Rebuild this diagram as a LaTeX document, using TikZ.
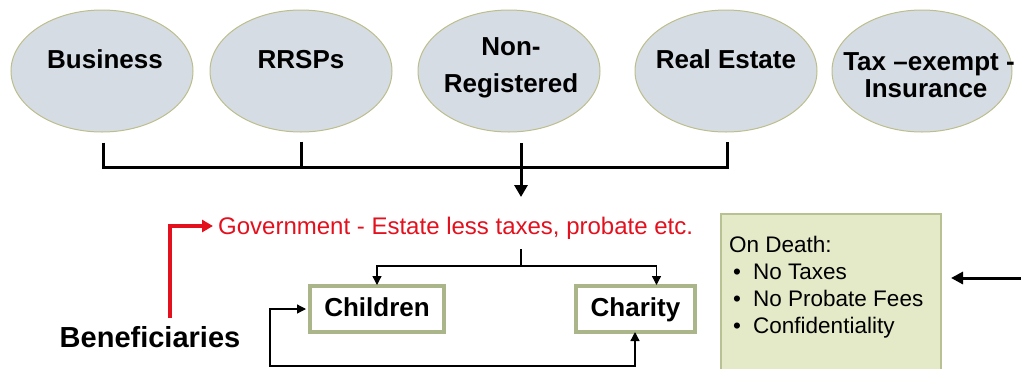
\documentclass[tikz,border=0pt]{standalone}
\usepackage{fontspec}
\setmainfont{Liberation Sans}
\usetikzlibrary{arrows.meta,shapes.geometric,calc}
\definecolor{ellfill}{RGB}{214,220,228}
\definecolor{ellline}{RGB}{188,190,140}
\definecolor{govred}{RGB}{227,16,30}
\definecolor{boxline}{RGB}{170,181,138}
\definecolor{notefill}{RGB}{228,233,200}
\definecolor{noteline}{RGB}{184,193,146}
\begin{document}
\begin{tikzpicture}[x=1pt,y=-1pt,
  asset/.style={ellipse, draw=ellline, fill=ellfill, line width=1pt, minimum width=182pt, minimum height=122pt, inner sep=0pt},
  assettext/.style={font=\fontsize{26}{34}\selectfont\bfseries, anchor=base, inner sep=0pt},
  bracket/.style={line width=3pt, line cap=butt},
  bigtip/.style={-{Triangle[length=12pt,width=13pt]}},
  thinline/.style={line width=1.3pt},
  smalltip/.style={-{Triangle[length=9pt,width=9pt]}},
  benbox/.style={draw=boxline, line width=4pt, fill=white, rectangle, inner sep=0pt, text height=19pt, text depth=5pt, font=\fontsize{26}{30}\selectfont\bfseries},
  notebox/.style={draw=noteline, fill=notefill, line width=1.2pt},
  notetext/.style={anchor=base west, inner sep=0pt, font=\fontsize{22.5}{27}\selectfont}
]
\useasboundingbox (0,0) rectangle (1021,368);
\clip (0,0) rectangle (1021,368);

% asset ellipses
\node[asset] (bus) at (102,71) {};
\node[asset] (rr) at (301,71) {};
\node[asset] (nr) at (509,71) {};
\node[asset] (re) at (726,71) {};
\node[asset, minimum width=180pt] (tx) at (922,71) {};
\node[assettext] (bust) at (105,68) {Business};
\node[assettext] (rrt) at (301,68) {RRSPs};
\node[assettext] (nrt1) at (511,55) {Non-};
\node[assettext] (nrt2) at (511,92) {Registered};
\node[assettext] (ret) at (726,68) {Real Estate};
\node[assettext] (txt1) at (929,70) {Tax –exempt -};
\node[assettext] (txt2) at (926,97) {Insurance};

% bracket
\coordinate (hl) at (103,167);
\coordinate (hr) at (727,167);
\coordinate (nrs) at (521,143);
\coordinate (dn) at (521,197);
\draw[bracket] ([yshift=-10pt]bus.south -| hl) -- (hl) -- (hr) -- ([yshift=-9pt]re.south -| hr);
\draw[bracket] ([yshift=-9pt]rr.south) -- (rr.south |- hl);
\draw[bracket, bigtip] (nrs) -- (dn);

% government
\node[anchor=base west, inner sep=0pt, text=govred, font=\fontsize{24}{28}\selectfont] (gov) at (218,234) {Government - Estate less taxes, probate etc.};
\node[anchor=base, inner sep=0pt, font=\fontsize{29}{32}\selectfont\bfseries] (ben) at (150,347) {Beneficiaries};
\coordinate (rs) at (170,318);
\coordinate (gw) at (213,226);
\draw[line width=3.5pt, govred, -{Triangle[length=11pt,width=12pt]}] (rs) |- (gw);

% children / charity
\node[benbox, minimum width=134pt, minimum height=46pt] (ch) at (377,309) {Children};
\node[benbox, minimum width=119pt, minimum height=46pt] (cha) at (635.5,309) {Charity};
\coordinate (gs) at (521,249);
\coordinate (split) at (521,266);
\draw[thinline] (gs) -- (split);
\draw[thinline, smalltip] (split) -| ([yshift=-1pt]ch.north);
\draw[thinline, smalltip] (split) -| ([xshift=21pt,yshift=-1pt]cha.north);
\coordinate (l1) at (270,309);
\coordinate (l2) at (270,366);
\coordinate (l3) at (635,366);
\draw[thinline, {Triangle[length=9pt,width=9pt]}-{Triangle[length=9pt,width=9pt]}] ([xshift=-2pt]ch.west) -- (l1) -- (l2) -- (l3) -- ([yshift=2pt]cha.south -| l3);

% note box
\path[notebox] (721,214) rectangle (941,390);
\coordinate (nb) at (941,278);
\node[notetext] (n0) at (729,252) {On Death:};
\node[notetext] (b1) at (733,279) {\textbullet};
\node[notetext] (n1) at (753,279) {No Taxes};
\node[notetext] (b2) at (733,306) {\textbullet};
\node[notetext] (n2) at (753,306) {No Probate Fees};
\node[notetext] (b3) at (733,333) {\textbullet};
\node[notetext] (n3) at (753,333) {Confidentiality};
\coordinate (rarr) at (1021,278);
\draw[bracket, -{Triangle[length=12pt,width=12pt]}] (rarr) -- ([xshift=10pt]nb);
\end{tikzpicture}
\end{document}
